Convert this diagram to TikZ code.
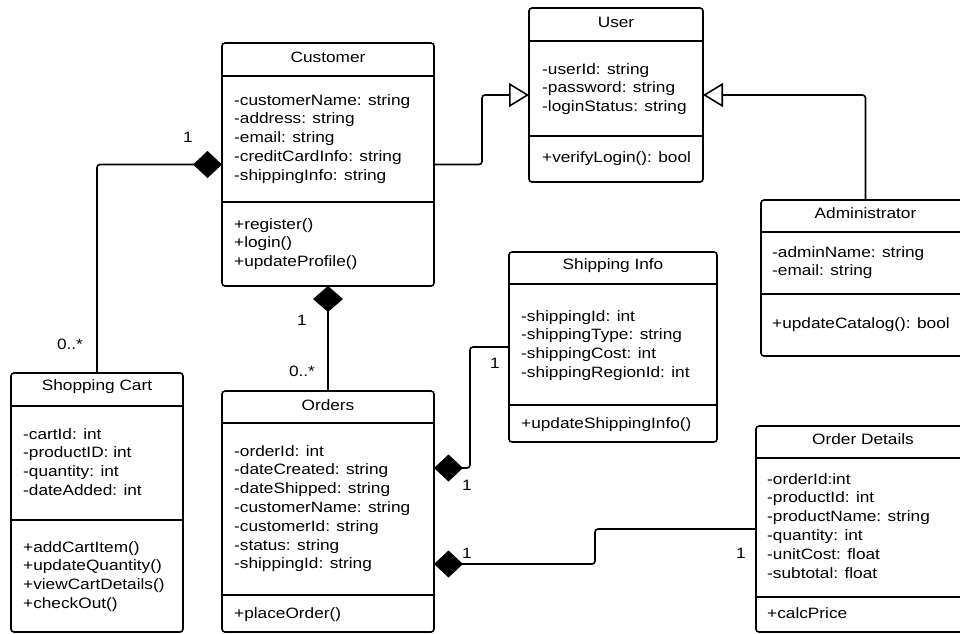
\documentclass[tikz,border=0pt]{standalone}
\usepackage{fontspec}
\setmainfont{Liberation Sans}[FakeStretch=1.15]
\usepackage{tikz}
\usetikzlibrary{calc,arrows.meta}
\tikzset{
  cls/.style={draw, rounded corners=3pt, line width=1.6pt, inner sep=0pt, outer sep=0pt},
  title/.style={font=\fontsize{15}{19}\selectfont},
  members/.style={anchor=north west, inner sep=0pt, align=left, font=\fontsize{15}{18.8}\selectfont},
  rule/.style={line width=1.6pt},
  comp/.style={draw, line width=1.6pt, rounded corners=3pt, {Diamond[length=29pt,width=27pt]}-},
  inherit/.style={draw, line width=1.6pt, rounded corners=3pt, -{Triangle[open,length=20pt,width=24pt]}},
  mult/.style={font=\fontsize{15}{18}\selectfont, inner sep=0pt}
}

\begin{document}
\begin{tikzpicture}[x=1pt,y=-1pt]
  \clip (0,0) rectangle (960,633);

  % class boxes
  \node[cls, minimum width=212pt, minimum height=243pt] (cust) at (328,164.5) {};
  \node[cls, minimum width=174pt, minimum height=174pt] (user) at (616,95) {};
  \node[cls, minimum width=209pt, minimum height=156pt] (admin) at (865.5,278) {};
  \node[cls, minimum width=208pt, minimum height=190pt] (ship) at (613,347) {};
  \node[cls, minimum width=214pt, minimum height=206pt] (odet) at (863,529) {};
  \node[cls, minimum width=172pt, minimum height=259pt] (cart) at (97,502.5) {};
  \node[cls, minimum width=212pt, minimum height=241pt] (orders) at (328,511.5) {};

  % Customer
  \node[title] (cust-t) at ($(cust.north)+(0,14)$) {Customer};
  \draw[rule] ($(cust.north west)+(0,33)$) -- ($(cust.north east)+(0,33)$);
  \node[members] (cust-a) at ($(cust.north west)+(12,51)$) {-customerName: string\\-address: string\\-email: string\\-creditCardInfo: string\\-shippingInfo: string};
  \draw[rule] ($(cust.north west)+(0,159)$) -- ($(cust.north east)+(0,159)$);
  \node[members] (cust-m) at ($(cust.north west)+(12,175)$) {+register()\\+login()\\+updateProfile()};

  % User
  \node[title] (user-t) at ($(user.north)+(0,14)$) {User};
  \draw[rule] ($(user.north west)+(0,33)$) -- ($(user.north east)+(0,33)$);
  \node[members] (user-a) at ($(user.north west)+(13,55)$) {-userId: string\\-password: string\\-loginStatus: string};
  \draw[rule] ($(user.north west)+(0,128)$) -- ($(user.north east)+(0,128)$);
  \node[members] (user-m) at ($(user.north west)+(13,143)$) {+verifyLogin(): bool};

  % Administrator
  \node[title] (admin-t) at ($(admin.north)+(0,13)$) {Administrator};
  \draw[rule] ($(admin.north west)+(0,32)$) -- ($(admin.north east)+(0,32)$);
  \node[members] (admin-a) at ($(admin.north west)+(11,46)$) {-adminName: string\\-email: string};
  \draw[rule] ($(admin.north west)+(0,94)$) -- ($(admin.north east)+(0,94)$);
  \node[members] (admin-m) at ($(admin.north west)+(11,117)$) {+updateCatalog(): bool};

  % Shipping Info
  \node[title] (ship-t) at ($(ship.north)+(0,14)$) {Shipping Info};
  \draw[rule] ($(ship.north west)+(0,32)$) -- ($(ship.north east)+(0,32)$);
  \node[members] (ship-a) at ($(ship.north west)+(12,58)$) {-shippingId: int\\-shippingType: string\\-shippingCost: int\\-shippingRegionId: int};
  \draw[rule] ($(ship.north west)+(0,153)$) -- ($(ship.north east)+(0,153)$);
  \node[members] (ship-m) at ($(ship.north west)+(12,165)$) {+updateShippingInfo()};

  % Order Details
  \node[title] (odet-t) at ($(odet.north)+(0,13)$) {Order Details};
  \draw[rule] ($(odet.north west)+(0,32)$) -- ($(odet.north east)+(0,32)$);
  \node[members] (odet-a) at ($(odet.north west)+(11,47)$) {-orderId:int\\-productId: int\\-productName: string\\-quantity: int\\-unitCost: float\\-subtotal: float};
  \draw[rule] ($(odet.north west)+(0,171)$) -- ($(odet.north east)+(0,171)$);
  \node[members] (odet-m) at ($(odet.north west)+(11,181)$) {+calcPrice};

  % Shopping Cart
  \node[title] (cart-t) at ($(cart.north)+(0,14)$) {Shopping Cart};
  \draw[rule] ($(cart.north west)+(0,33)$) -- ($(cart.north east)+(0,33)$);
  \node[members] (cart-a) at ($(cart.north west)+(12,55)$) {-cartId: int\\-productID: int\\-quantity: int\\-dateAdded: int};
  \draw[rule] ($(cart.north west)+(0,147)$) -- ($(cart.north east)+(0,147)$);
  \node[members] (cart-m) at ($(cart.north west)+(12,168)$) {+addCartItem()\\+updateQuantity()\\+viewCartDetails()\\+checkOut()};

  % Orders
  \node[title] (orders-t) at ($(orders.north)+(0,14)$) {Orders};
  \draw[rule] ($(orders.north west)+(0,32)$) -- ($(orders.north east)+(0,32)$);
  \node[members] (orders-a) at ($(orders.north west)+(12,54)$) {-orderId: int\\-dateCreated: string\\-dateShipped: string\\-customerName: string\\-customerId: string\\-status: string\\-shippingId: string};
  \draw[rule] ($(orders.north west)+(0,204)$) -- ($(orders.north east)+(0,204)$);
  \node[members] (orders-m) at ($(orders.north west)+(12,216)$) {+placeOrder()};

  % generalisation
  \draw[inherit] (cust.east) -- ++(48,0) |- (user.west);
  \draw[inherit] (admin.north) |- (user.east);

  % composition
  \draw[comp] (cust.west) -| (cart.north);
  \draw[comp, {Diamond[length=26pt,width=30pt]}-] (cust.south) -- (orders.north);
  \coordinate (orders-s) at ($(orders.north east)+(0,77)$);
  \coordinate (orders-d) at ($(orders.north east)+(0,173)$);
  \draw[comp] (orders-s) -- ++(36,0) |- (ship.west);
  \draw[comp] (orders-d) -- ++(161,0) |- (odet.west);

  % multiplicities
  \node[mult] (m-cust-cart) at ($(cust.west)+(-34,-27.5)$) {1};
  \node[mult] (m-cart) at ($(cart.north)+(-27,-29)$) {0..*};
  \node[mult] (m-cust-ord) at ($(cust.south)+(-26,34)$) {1};
  \node[mult] (m-ord) at ($(orders.north)+(-26,-20)$) {0..*};
  \node[mult] (m-ship) at ($(ship.west)+(-14,16)$) {1};
  \node[mult] (m-ord-ship) at ($(orders-s)+(33,17)$) {1};
  \node[mult] (m-ord-det) at ($(orders-d)+(33,-11)$) {1};
  \node[mult] (m-det) at ($(odet.west)+(-15,24)$) {1};
\end{tikzpicture}
\end{document}
